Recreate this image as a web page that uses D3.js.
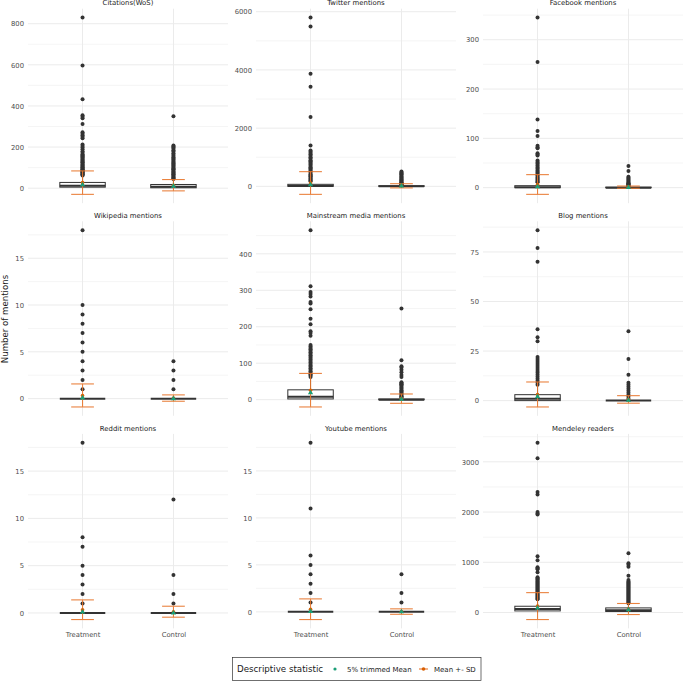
<!DOCTYPE html>
<html>
<head>
<meta charset="utf-8">
<script src="https://cdn.jsdelivr.net/npm/d3@7"></script>
<style>
  html, body { margin: 0; padding: 0; background: #fff; }
  svg { display: block; font-family: "DejaVu Sans", sans-serif; }
</style>
</head>
<body>
<svg id="chart" width="685" height="681"></svg>
<script>
// ---------------- DATA ----------------
const facetTitles = ["Citations(WoS)", "Twitter mentions", "Facebook mentions",
  "Wikipedia mentions", "Mainstream media mentions", "Blog mentions",
  "Reddit mentions", "Youtube mentions", "Mendeley readers"];
const groups = ["Treatment", "Control"];

// box statistics per facet: [Treatment, Control]
const q1Values     = [[5, 2], [3, 1], [0, 0], [0, 0], [2, 0], [0, 0], [0, 0], [0, 0], [32, 20]];
const medianValues = [[12, 7], [15, 5], [1, 0], [0, 0], [8, 0], [1, 0], [0, 0], [0, 0], [72, 46]];
const q3Values     = [[28, 18], [70, 20], [4, 1], [0, 0], [27, 2], [3, 0], [0, 0], [0, 0], [125, 92]];
const whiskLoValues = [[0, 0], [0, 0], [0, 0], [0, 0], [0, 0], [0, 0], [0, 0], [0, 0], [0, 0]];
const whiskHiValues = [[62, 42], [170, 48], [10, 2], [0, 0], [60, 5], [7, 0], [0, 0], [0, 0], [260, 180]];

// descriptive statistics per facet: [Treatment, Control]
const meanValues    = [[27, 14.5], [115, 19], [6.4, 1], [0.34, 0.06], [26, 2.8], [3.1, 0.6], [0.34, 0.13], [0.28, 0.03], [128, 70]];
const sdValues      = [[57, 27.5], [390, 72], [20, 2.3], [1.23, 0.34], [46, 12.8], [6.3, 1.9], [1.04, 0.58], [1.1, 0.29], [268, 110]];
const trimmedValues = [[17, 10], [55, 10], [2, 0.4], [0.08, 0], [19, 1], [2, 0.2], [0.1, 0], [0.05, 0], [90, 55]];

// outliers per facet: [Treatment list, Control list]
const outlierValues = [
  [[830, 597, 433, 355, 348, 340, 312, 272, 265, 258, 250, 243, 212, 205, 198, 190, 180, 172, 165, 160, 155, 150, 145, 140, 135, 130, 126, 122, 118, 114, 110, 106, 102, 98, 95, 92, 89, 86, 83, 80, 77, 74, 71, 68, 65, 62],
   [350, 208, 203, 198, 192, 185, 178, 170, 163, 157, 150, 145, 140, 134, 128, 124, 120, 115, 110, 105, 100, 96, 92, 88, 84, 80, 76, 72, 68, 64, 60, 56, 52, 48, 45]],
  [[5800, 5490, 3870, 3420, 2380, 1400, 1230, 1190, 1150, 1100, 1050, 1000, 960, 900, 860, 820, 780, 740, 700, 660, 620, 580, 540, 500, 460, 420, 380, 350, 320, 290, 260, 230, 200, 175],
   [510, 480, 450, 420, 390, 360, 330, 300, 270, 240, 210, 180, 160, 140, 120, 100, 85, 70, 58, 50]],
  [[345, 255, 138, 115, 105, 85, 82, 80, 70, 67, 65, 55, 52, 50, 48, 45, 42, 40, 38, 35, 32, 30, 28, 25, 22, 20, 18, 16, 14, 12, 11],
   [44, 34, 22, 20, 18, 16, 14, 12, 10, 9, 8, 7, 6, 5, 4, 3]],
  [[18, 10, 9, 8, 7, 6, 5, 4, 3, 2, 1], [4, 3, 2, 1]],
  [[465, 311, 295, 290, 283, 268, 264, 248, 222, 207, 188, 183, 175, 150, 146, 142, 138, 134, 130, 126, 122, 118, 114, 110, 106, 102, 98, 94, 90, 86, 82, 78, 74, 70, 66, 62],
   [250, 108, 92, 88, 82, 75, 68, 62, 48, 46, 44, 42, 40, 38, 35, 32, 29, 26, 23, 20, 17, 14, 11, 9, 7, 6]],
  [[86, 77, 70, 36, 32, 30, 22, 21, 20, 19, 18, 17, 16, 15, 14, 13, 12, 11, 10, 9, 8],
   [35, 21, 13, 9, 8, 7, 6, 5, 4, 3, 2, 1]],
  [[18, 8, 7, 5, 4, 3, 2, 1], [12, 4, 2, 1]],
  [[18, 11, 6, 5, 4, 3, 2, 1], [4, 2, 1]],
  [[3380, 3070, 2400, 2350, 2000, 1970, 1950, 1120, 1040, 900, 880, 860, 800, 700, 680, 660, 640, 620, 600, 580, 560, 540, 520, 500, 480, 460, 440, 420, 400, 380, 360, 340, 320, 300, 280, 265],
   [1180, 980, 950, 910, 730, 650, 620, 600, 580, 560, 540, 520, 500, 480, 460, 440, 420, 400, 380, 360, 340, 320, 300, 280, 260, 240, 220, 200, 185]]
];

const yTickValues = [[0, 200, 400, 600, 800], [0, 2000, 4000, 6000], [0, 100, 200, 300],
  [0, 5, 10, 15], [0, 100, 200, 300, 400], [0, 25, 50, 75],
  [0, 5, 10, 15], [0, 5, 10, 15], [0, 1000, 2000, 3000]];

const axisTitle = "Number of mentions";
const legendTitle = "Descriptive statistic";
const legendLabels = ["5% trimmed Mean", "Mean +- SD"];

// ---------------- LAYOUT ----------------
const svg = d3.select("#chart");
svg.append("rect").attr("width", 685).attr("height", 681).attr("fill", "#fff");

const colX = [28, 256, 483];
const rowY = [8.7, 221.3, 433.9];
const panelW = 200, panelH = 194.5;
const orange = "#D95F02", green = "#1B9E77", boxCol = "#333333";

facetTitles.forEach((title, i) => {
  const col = i % 3, row = Math.floor(i / 3);
  const x0 = colX[col], y0 = rowY[row];
  const g = svg.append("g");

  const x = d3.scalePoint().domain(groups).range([x0, x0 + panelW]).padding(0.6);
  const step = x.step();

  // y domain from all drawn values, expanded 5%
  const vals = [];
  groups.forEach((_, j) => {
    vals.push(meanValues[i][j] - sdValues[i][j], meanValues[i][j] + sdValues[i][j],
      q1Values[i][j], q3Values[i][j], whiskLoValues[i][j], whiskHiValues[i][j], trimmedValues[i][j]);
    outlierValues[i][j].forEach(v => vals.push(v));
  });
  const [mn, mx] = d3.extent(vals);
  const pad = (mx - mn) * 0.05;
  const y = d3.scaleLinear().domain([mn - pad, mx + pad]).range([y0 + panelH, y0]);

  // minor grid
  const ticks = yTickValues[i];
  const stepT = ticks[1] - ticks[0];
  const minors = [];
  for (let k = -1; k < ticks.length; k++) {
    const v = (k < 0 ? ticks[0] - stepT : ticks[k]) + stepT / 2;
    if (v >= y.domain()[0] && v <= y.domain()[1]) minors.push(v);
  }
  g.selectAll(".minor").data(minors).join("line")
    .attr("x1", x0).attr("x2", x0 + panelW)
    .attr("y1", d => y(d)).attr("y2", d => y(d))
    .attr("stroke", "#EFEFEF").attr("stroke-width", 0.6);
  // major grid
  g.selectAll(".major").data(ticks).join("line")
    .attr("x1", x0).attr("x2", x0 + panelW)
    .attr("y1", d => y(d)).attr("y2", d => y(d))
    .attr("stroke", "#EBEBEB").attr("stroke-width", 1);
  g.selectAll(".vmajor").data(groups).join("line")
    .attr("x1", d => x(d)).attr("x2", d => x(d))
    .attr("y1", y0).attr("y2", y0 + panelH)
    .attr("stroke", "#EBEBEB").attr("stroke-width", 1);

  // y tick labels
  const yAxis = d3.axisLeft(y).tickValues(ticks).tickSize(0).tickPadding(4).tickFormat(d3.format("d"));
  const ax = g.append("g").attr("transform", `translate(${x0},0)`).call(yAxis);
  ax.select(".domain").remove();
  ax.selectAll("text").attr("font-size", 6.8).attr("fill", "#4D4D4D")
    .attr("font-family", "DejaVu Sans, sans-serif");

  // strip title
  g.append("text").attr("x", x0 + panelW / 2).attr("y", y0 - 3.3)
    .attr("text-anchor", "middle").attr("font-size", 6.9).attr("fill", "#1A1A1A").text(title);

  // x labels for bottom row
  if (row === 2) {
    const xAxis = d3.axisBottom(x).tickSize(0).tickPadding(4);
    const xa = g.append("g").attr("transform", `translate(0,${y0 + panelH})`).call(xAxis);
    xa.select(".domain").remove();
    xa.selectAll("text").attr("font-size", 6.8).attr("fill", "#4D4D4D")
      .attr("font-family", "DejaVu Sans, sans-serif");
  }

  const bw = step * 0.5;
  groups.forEach((grp, j) => {
    const cx = x(grp);
    // whiskers
    g.append("line").attr("x1", cx).attr("x2", cx)
      .attr("y1", y(q3Values[i][j])).attr("y2", y(whiskHiValues[i][j]))
      .attr("stroke", boxCol).attr("stroke-width", 1);
    g.append("line").attr("x1", cx).attr("x2", cx)
      .attr("y1", y(q1Values[i][j])).attr("y2", y(whiskLoValues[i][j]))
      .attr("stroke", boxCol).attr("stroke-width", 1);
    // box
    g.append("rect").attr("x", cx - bw / 2).attr("width", bw)
      .attr("y", y(q3Values[i][j])).attr("height", Math.max(0, y(q1Values[i][j]) - y(q3Values[i][j])))
      .attr("fill", "#fff").attr("stroke", boxCol).attr("stroke-width", 1);
    g.append("line").attr("x1", cx - bw / 2).attr("x2", cx + bw / 2)
      .attr("y1", y(medianValues[i][j])).attr("y2", y(medianValues[i][j]))
      .attr("stroke", boxCol).attr("stroke-width", 2);
    // outliers
    g.selectAll(null).data(outlierValues[i][j]).join("circle")
      .attr("cx", cx).attr("cy", d => y(d)).attr("r", 2)
      .attr("fill", boxCol);
    // mean +- sd errorbar
    const lo = meanValues[i][j] - sdValues[i][j], hi = meanValues[i][j] + sdValues[i][j];
    const cw = step * 0.25;
    const eb = g.append("g").attr("stroke", "#E8762C").attr("stroke-width", 1.1).attr("opacity", 0.9);
    eb.append("line").attr("x1", cx).attr("x2", cx).attr("y1", y(lo)).attr("y2", y(hi));
    eb.append("line").attr("x1", cx - cw / 2).attr("x2", cx + cw / 2).attr("y1", y(lo)).attr("y2", y(lo));
    eb.append("line").attr("x1", cx - cw / 2).attr("x2", cx + cw / 2).attr("y1", y(hi)).attr("y2", y(hi));
    g.append("circle").attr("cx", cx).attr("cy", y(meanValues[i][j])).attr("r", 1.8).attr("fill", orange);
    // trimmed mean
    g.append("path").attr("d", d3.symbol(d3.symbolTriangle, 12)())
      .attr("transform", `translate(${cx},${y(trimmedValues[i][j])})`).attr("fill", green);
  });
});

// y axis title
svg.append("text").attr("transform", "translate(7.5,319) rotate(-90)")
  .attr("text-anchor", "middle").attr("font-size", 8.6).attr("fill", "#1A1A1A").text(axisTitle);

// legend
const lg = svg.append("g");
lg.append("rect").attr("x", 232.5).attr("y", 657.5).attr("width", 248.5).attr("height", 23)
  .attr("fill", "#fff").attr("stroke", "#333").attr("stroke-width", 0.7);
lg.append("text").attr("x", 237).attr("y", 672).attr("font-size", 8.7).attr("fill", "#1A1A1A").text(legendTitle);
lg.append("circle").attr("cx", 335).attr("cy", 669).attr("r", 1.6).attr("fill", green);
lg.append("text").attr("x", 347).attr("y", 671.5).attr("font-size", 7).attr("fill", "#1A1A1A").text(legendLabels[0]);
lg.append("line").attr("x1", 419).attr("x2", 428).attr("y1", 669).attr("y2", 669)
  .attr("stroke", "#E8762C").attr("stroke-width", 1.1);
lg.append("circle").attr("cx", 423.5).attr("cy", 669).attr("r", 1.8).attr("fill", orange);
lg.append("text").attr("x", 434).attr("y", 671.5).attr("font-size", 7).attr("fill", "#1A1A1A").text(legendLabels[1]);
</script>
</body>
</html>
